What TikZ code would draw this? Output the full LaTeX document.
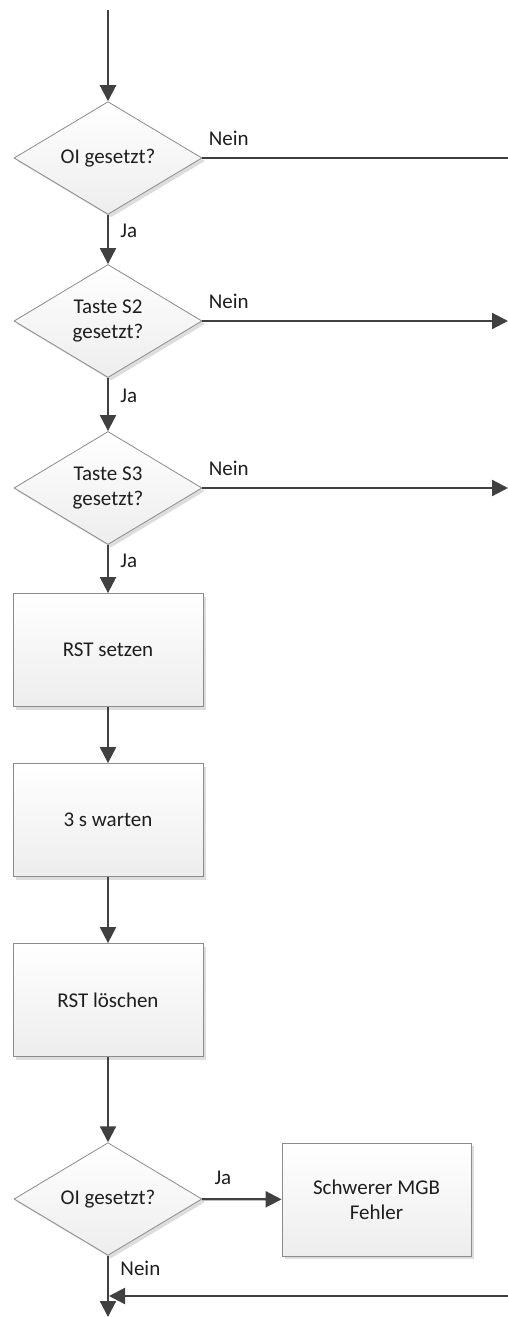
\documentclass[tikz,border=0pt]{standalone}
\usepackage{fontspec}
\setmainfont{Carlito}
\usepackage{tikz}
\usetikzlibrary{arrows.meta,shapes.geometric,shadows}
\definecolor{linegray}{HTML}{404040}
\definecolor{framegray}{HTML}{8C8C8C}
\definecolor{textgray}{HTML}{1E1E1E}
\tikzset{>={Triangle[length=16pt, width=16pt]},
    every node/.style={font=\fontsize{21}{25}\selectfont, text=textgray},
    flow/.style={draw=linegray, line width=2.2pt, ->},
    line/.style={draw=linegray, line width=2.2pt},
    decision/.style={diamond, draw=framegray, line width=0.8pt, top color=white, bottom color=gray!14,
        minimum width=188pt, minimum height=111pt, inner sep=0pt, align=center,
        drop shadow={shadow xshift=3pt, shadow yshift=-3pt, fill=gray!45, opacity=0.6}},
    process/.style={rectangle, draw=framegray, line width=0.8pt, top color=white, bottom color=gray!14,
        minimum width=190pt, minimum height=113pt, inner sep=0pt, align=center,
        drop shadow={shadow xshift=3pt, shadow yshift=-3pt, fill=gray!45, opacity=0.6}}}

\begin{document}
\begin{tikzpicture}[x=1pt, y=1pt]
    \useasboundingbox (0, 0) rectangle (508, -1317);
    \node[decision] at (108, -158) (oi1) {OI gesetzt?};
    \node[decision] at (108, -321) (s2) {Taste S2\\gesetzt?};
    \node[decision] at (108, -488) (s3) {Taste S3\\gesetzt?};
    \node[process] at (108, -650) (rstset) {RST setzen};
    \node[process] at (108, -820) (wait) {3 s warten};
    \node[process] at (108, -1000) (rstclr) {RST löschen};
    \node[decision] at (108, -1199) (oi2) {OI gesetzt?};
    \node[process, minimum width=189pt] at (376.5, -1199.5) (mgb) {Schwerer MGB\\Fehler};
    \coordinate (start) at (108, -10);
    \coordinate (out1) at (508, -158);
    \coordinate (out2) at (508, -321);
    \coordinate (out3) at (508, -488);
    \coordinate (back) at (508, -1296);
    \coordinate (join) at (109, -1296);
    \coordinate (stop) at (108, -1317);
    \draw[flow] (start) -- (oi1);
    \draw[line] (oi1.east) -- (out1) node[pos=0, anchor=south west, xshift=2pt, yshift=8pt] {Nein};
    \draw[flow] (oi1) -- (s2) node[pos=0.33, right=8pt] {Ja};
    \draw[flow] (s2.east) -- (out2) node[pos=0, anchor=south west, xshift=2pt, yshift=8pt] {Nein};
    \draw[flow] (s2) -- (s3) node[pos=0.33, right=8pt] {Ja};
    \draw[flow] (s3.east) -- (out3) node[pos=0, anchor=south west, xshift=2pt, yshift=8pt] {Nein};
    \draw[flow] (s3) -- (rstset) node[pos=0.33, right=8pt] {Ja};
    \draw[flow] (rstset) -- (wait);
    \draw[flow] (wait) -- (rstclr);
    \draw[flow] (rstclr) -- (oi2);
    \draw[flow] (oi2) -- (mgb) node[pos=0.1, anchor=south west, yshift=10pt] {Ja};
    \draw[flow] (oi2) -- (stop) node[pos=0.2, right=8pt] {Nein};
    \draw[flow] (back) -- (join);
  \end{tikzpicture}
\end{document}
